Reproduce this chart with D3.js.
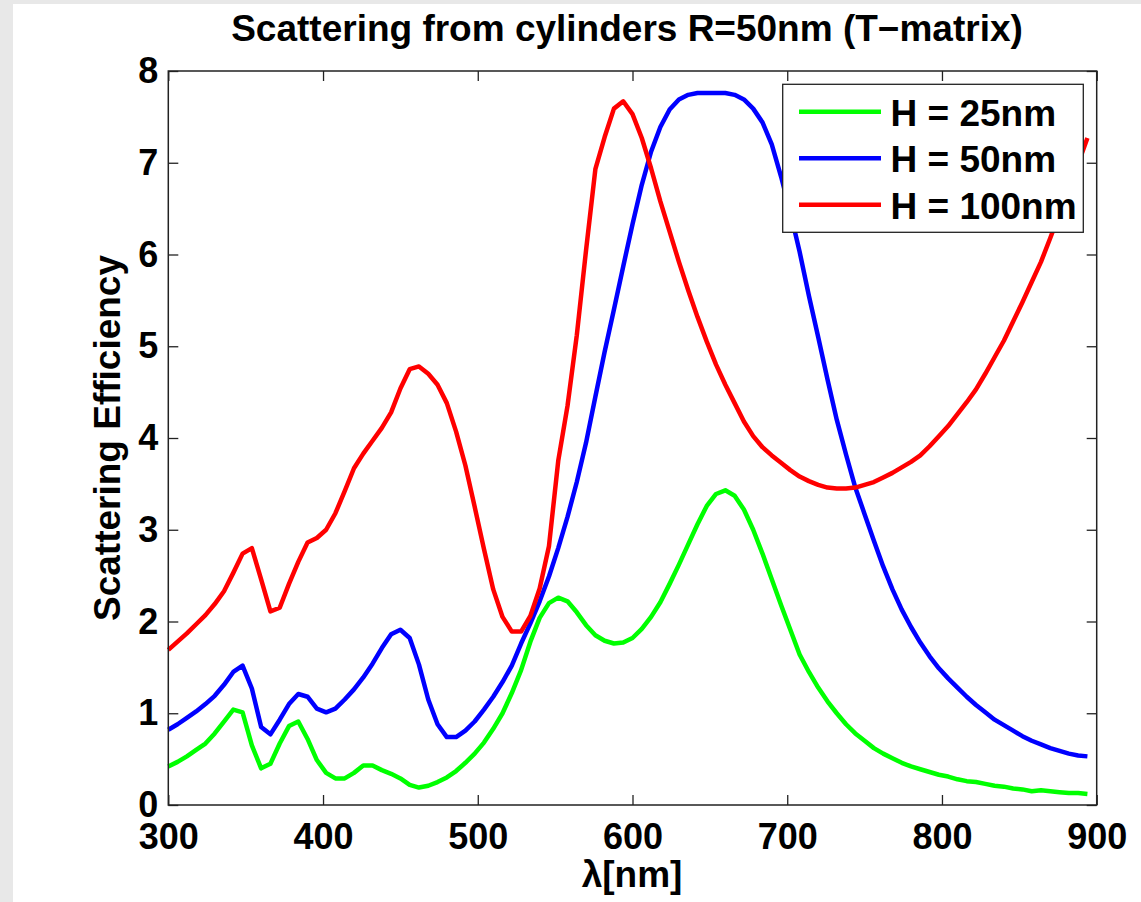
<!DOCTYPE html>
<html>
  <head>
    <meta charset="utf-8">
    <title>Scattering from cylinders</title>
    <style>
      body {
        margin: 0;
        background-color: #e8e8e8;
      }
      svg {
        display: block;
      }
      text {
        font-family: "Liberation Sans", Arial, Helvetica, sans-serif;
        font-weight: bold;
        fill: #000;
      }
    </style>
    <script src="https://d3js.org/d3.v7.min.js"></script>
  </head>
  <body>
    <svg></svg>
    <script>
      // wavelength grid (nm), one sample every 6 nm
      var wavelengths = [
        300, 306, 312, 318, 324, 330, 336, 342, 348, 354,
        360, 366, 372, 378, 384, 390, 396, 402, 408, 414,
        420, 426, 432, 438, 444, 450, 456, 462, 468, 474,
        480, 486, 492, 498, 504, 510, 516, 522, 528, 534,
        540, 546, 552, 558, 564, 570, 576, 582, 588, 594,
        600, 606, 612, 618, 624, 630, 636, 642, 648, 654,
        660, 666, 672, 678, 684, 690, 696, 702, 708, 714,
        720, 726, 732, 738, 744, 750, 756, 762, 768, 774,
        780, 786, 792, 798, 804, 810, 816, 822, 828, 834,
        840, 846, 852, 858, 864, 870, 876, 882, 888, 894
      ];

      // H = 25nm
      var qH25 = [
        0.42, 0.47, 0.53, 0.60, 0.67, 0.78, 0.91, 1.04, 1.01, 0.65,
        0.40, 0.45, 0.67, 0.86, 0.91, 0.72, 0.49, 0.35, 0.29, 0.29,
        0.35, 0.43, 0.43, 0.38, 0.34, 0.29, 0.22, 0.19, 0.21, 0.25,
        0.30, 0.37, 0.46, 0.56, 0.68, 0.83, 1.00, 1.22, 1.47, 1.78,
        2.04, 2.20, 2.26, 2.22, 2.10, 1.96, 1.85, 1.79, 1.76, 1.77,
        1.82, 1.92, 2.05, 2.21, 2.41, 2.62, 2.84, 3.06, 3.26, 3.39,
        3.43, 3.37, 3.22, 3.00, 2.74, 2.46, 2.18, 1.91, 1.64, 1.45,
        1.28, 1.13, 1.00, 0.88, 0.78, 0.70, 0.62, 0.56, 0.51, 0.46,
        0.42, 0.39, 0.36, 0.33, 0.31, 0.28, 0.26, 0.25, 0.23, 0.21,
        0.20, 0.18, 0.17, 0.15, 0.16, 0.15, 0.14, 0.13, 0.13, 0.12
      ];

      // H = 50nm
      var qH50 = [
        0.82, 0.88, 0.95, 1.02, 1.10, 1.19, 1.31, 1.45, 1.52, 1.27,
        0.85, 0.77, 0.93, 1.10, 1.21, 1.18, 1.05, 1.01, 1.05, 1.15,
        1.26, 1.39, 1.54, 1.71, 1.86, 1.91, 1.82, 1.53, 1.15, 0.88,
        0.74, 0.74, 0.81, 0.91, 1.04, 1.18, 1.34, 1.52, 1.76, 1.98,
        2.22, 2.49, 2.80, 3.14, 3.52, 3.95, 4.45, 4.94, 5.40, 5.87,
        6.33, 6.76, 7.12, 7.39, 7.58, 7.69, 7.74, 7.76, 7.76, 7.76,
        7.76, 7.74, 7.69, 7.59, 7.44, 7.20, 6.85, 6.46, 6.03, 5.55,
        5.10, 4.64, 4.20, 3.82, 3.46, 3.17, 2.88, 2.60, 2.35, 2.13,
        1.94, 1.77, 1.62, 1.49, 1.38, 1.28, 1.18, 1.09, 1.01, 0.93,
        0.87, 0.81, 0.75, 0.70, 0.66, 0.62, 0.59, 0.56, 0.54, 0.53
      ];

      // H = 100nm
      var qH100 = [
        1.69, 1.78, 1.87, 1.97, 2.07, 2.19, 2.33, 2.53, 2.74, 2.80,
        2.46, 2.11, 2.15, 2.41, 2.65, 2.86, 2.91, 3.00, 3.18, 3.42,
        3.67, 3.83, 3.97, 4.11, 4.28, 4.54, 4.75, 4.78, 4.70, 4.58,
        4.38, 4.07, 3.70, 3.25, 2.79, 2.35, 2.05, 1.89, 1.89, 2.06,
        2.36, 2.82, 3.75, 4.35, 5.12, 6.05, 6.93, 7.28, 7.59, 7.67,
        7.53, 7.27, 6.94, 6.58, 6.25, 5.92, 5.61, 5.32, 5.05, 4.80,
        4.58, 4.38, 4.18, 4.02, 3.90, 3.81, 3.73, 3.65, 3.58, 3.53,
        3.49, 3.46, 3.45, 3.45, 3.46, 3.49, 3.52, 3.57, 3.62, 3.68,
        3.74, 3.81, 3.91, 4.02, 4.13, 4.26, 4.39, 4.53, 4.70, 4.88,
        5.06, 5.27, 5.48, 5.70, 5.92, 6.18, 6.45, 6.72, 6.99, 7.27
      ];

      var seriesNames = ["H = 25nm", "H = 50nm", "H = 100nm"];
      var seriesColors = ["#00ff00", "#0000ff", "#ff0000"];
      var xTicks = [300, 400, 500, 600, 700, 800, 900];
      var yTicks = [0, 1, 2, 3, 4, 5, 6, 7, 8];

      var width = 1141;
      var height = 902;
      var plotLeft = 168.3, plotRight = 1096.7, plotTop = 71, plotBottom = 805;

      var svg = d3.select("svg")
          .attr("width", width)
          .attr("height", height);

      // white figure panel
      svg.append("rect")
        .attr("x", 13).attr("y", 4)
        .attr("width", width - 13).attr("height", height - 4)
        .attr("fill", "#fff");

      var x = d3.scaleLinear().domain([300, 900]).range([plotLeft, plotRight]);
      var y = d3.scaleLinear().domain([0, 8]).range([plotBottom, plotTop]);

      var series = [qH25, qH50, qH100].map(function(vals, i) {
        return {
          name: seriesNames[i],
          color: seriesColors[i],
          points: wavelengths.map(function(w, j) { return [w, vals[j]]; })
        };
      });

      var line = d3.line()
          .x(function(d) { return x(d[0]); })
          .y(function(d) { return y(d[1]); });

      svg.append("g").selectAll("path")
        .data(series)
        .enter()
        .append("path")
        .attr("d", function(d) { return line(d.points); })
        .attr("fill", "none")
        .attr("stroke", function(d) { return d.color; })
        .attr("stroke-width", 4.5)
        .attr("stroke-linejoin", "round");

      // axes, ticks pointing inward
      function styleAxis(g) {
        g.select(".domain").remove();
        g.selectAll(".tick line").attr("stroke", "#222").attr("stroke-width", 1.3);
        g.selectAll("text").style("font-size", "36px").attr("font-family", null);
      }

      svg.append("g")
        .attr("transform", "translate(0," + plotBottom + ")")
        .call(d3.axisBottom(x).tickValues(xTicks).tickSize(-10).tickPadding(18).tickFormat(d3.format("d")))
        .call(styleAxis);

      svg.append("g")
        .attr("transform", "translate(0," + plotTop + ")")
        .call(d3.axisTop(x).tickValues(xTicks).tickSize(-10).tickFormat(""))
        .call(styleAxis);

      svg.append("g")
        .attr("transform", "translate(" + plotLeft + ",0)")
        .call(d3.axisLeft(y).tickValues(yTicks).tickSize(-10).tickPadding(10).tickFormat(d3.format("d")))
        .call(styleAxis);

      svg.append("g")
        .attr("transform", "translate(" + plotRight + ",0)")
        .call(d3.axisRight(y).tickValues(yTicks).tickSize(-10).tickFormat(""))
        .call(styleAxis);

      svg.append("rect")
        .attr("x", plotLeft).attr("y", plotTop)
        .attr("width", plotRight - plotLeft).attr("height", plotBottom - plotTop)
        .attr("fill", "none")
        .attr("stroke", "#222")
        .attr("stroke-width", 1.5);

      // labels
      svg.append("text")
        .attr("x", 627).attr("y", 41)
        .attr("text-anchor", "middle")
        .style("font-size", "37px")
        .text("Scattering from cylinders R=50nm (T\u2212matrix)");

      svg.append("text")
        .attr("x", 632).attr("y", 887)
        .attr("text-anchor", "middle")
        .style("font-size", "37px")
        .text("\u03bb[nm]");

      svg.append("text")
        .attr("transform", "translate(120,438) rotate(-90)")
        .attr("text-anchor", "middle")
        .style("font-size", "37px")
        .text("Scattering Efficiency");

      // legend
      var legend = svg.append("g");
      legend.append("rect")
        .attr("x", 782.7).attr("y", 84.3)
        .attr("width", 300.6).attr("height", 148)
        .attr("fill", "#fff")
        .attr("stroke", "#222")
        .attr("stroke-width", 1.3);

      var rows = legend.selectAll("g.row")
        .data(series)
        .enter()
        .append("g")
        .attr("class", "row")
        .attr("transform", function(d, i) { return "translate(0," + (111.7 + i * 46.5) + ")"; });

      rows.append("line")
        .attr("x1", 799).attr("x2", 881)
        .attr("stroke", function(d) { return d.color; })
        .attr("stroke-width", 4.5);

      rows.append("text")
        .attr("x", 890.5).attr("y", 14)
        .style("font-size", "37px")
        .text(function(d) { return d.name; });
    </script>
  </body>
</html>
